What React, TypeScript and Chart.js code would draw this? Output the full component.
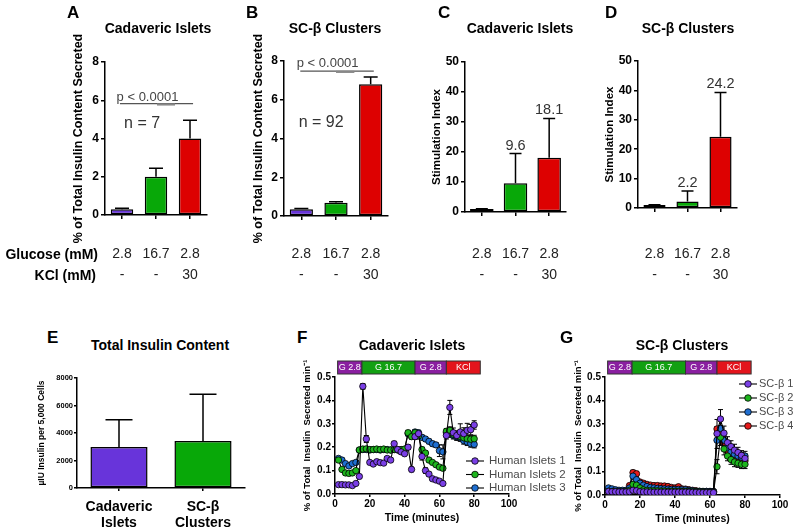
import React, { useEffect, useRef } from "react";
import { Chart, registerables } from "chart.js";

Chart.register(...registerables);

const FONT = "Arial, 'Liberation Sans', Helvetica, sans-serif";
const NARROW = "'Liberation Sans Narrow', 'Arial Narrow', Arial, sans-serif";

const PURPLE = "#6834da";
const GREEN = "#08a808";
const RED = "#dd0101";
const BLUE = "#1f6fd1";
const BAR_COLORS = [PURPLE, GREEN, RED];

// ---------------- data ----------------
const conditionLabels = [["2.8", "-"], ["16.7", "-"], ["2.8", "30"]];
const rowHeaders = ["Glucose (mM)", "KCl (mM)"];
const pValueText = "p < 0.0001";
const cadavericN = 7;
const scBetaN = 92;

const cadavericSecretion = [0.3, 2.0, 4.0];
const cadavericSecretionErr = [0.05, 0.45, 0.95];
const scBetaSecretion = [0.35, 0.68, 6.8];
const scBetaSecretionErr = [0.04, 0.06, 0.38];

const cadavericSI = [1.0, 9.6, 18.1];
const cadavericSIErr = [0.1, 9.9, 13.1];
const cadavericSILabels = ["", "9.6", "18.1"];
const scBetaSI = [1.0, 2.2, 24.2];
const scBetaSIErr = [0.1, 3.6, 15.1];
const scBetaSILabels = ["", "2.2", "24.2"];

const contentCategories = [["Cadaveric", "Islets"], ["SC-β", "Clusters"]];
const contentValues = [2980, 3420];
const contentErr = [1990, 3400];
const contentColors = [PURPLE, GREEN];

const timeMinutes = [2, 4, 6, 8, 10, 12, 14, 16, 18, 20, 22, 24, 26, 28, 30, 32, 34, 36, 38, 40,
  42, 44, 46, 48, 50, 52, 54, 56, 58, 60, 62, 64, 66, 68, 70, 72, 74, 76, 78, 80];

const phaseBounds = [1.5, 15.5, 46, 64, 83.5];
const phaseLabels = ["G 2.8", "G 16.7", "G 2.8", "KCl"];
const phaseColors = ["#8a1fa0", "#12a012", "#8a1fa0", "#e3141c"];

const isletNames = ["Human Islets 1", "Human Islets 2", "Human Islets 3"];
const islets1 = [0.040, 0.040, 0.039, 0.039, 0.036, 0.045,
  0.075, 0.460, 0.235, 0.135, 0.128, 0.138, 0.134, 0.132, 0.152, 0.145, 0.215, 0.190, 0.180, 0.172,
  0.200, 0.105, 0.245, 0.258, 0.160, 0.100, 0.085, 0.065, 0.060, 0.055, 0.045,
  0.250, 0.370, 0.262, 0.250, 0.265, 0.258, 0.272, 0.275, 0.295];
const islets2 = [0.145, 0.105, 0.090, 0.088, 0.090, 0.100,
  0.188, 0.192, 0.193, 0.190, 0.190, 0.192, 0.190, 0.192, 0.188, 0.188, 0.190, 0.190, 0.190, 0.192,
  0.262, 0.245, 0.262, 0.248, 0.190, 0.175, 0.145, 0.135, 0.125, 0.115, 0.110,
  0.268, 0.272, 0.255, 0.250, 0.245, 0.240, 0.236, 0.234, 0.236];
const islets3 = [0.152, 0.145, 0.130, 0.120, 0.130, 0.135,
  0.188, 0.190, 0.190, 0.188, 0.190, 0.190, 0.188, 0.190, 0.190, 0.188, 0.190, 0.188, 0.188, 0.190,
  0.258, 0.250, 0.265, 0.262, 0.242, 0.235, 0.225, 0.215, 0.210, 0.185, 0.180,
  0.262, 0.262, 0.250, 0.245, 0.240, 0.228, 0.222, 0.215, 0.212];
const islets1Err = [0.004, 0.004, 0.004, 0.004, 0.004, 0.005,
  0.008, 0.012, 0.015, 0.006, 0.006, 0.006, 0.006, 0.006, 0.008, 0.008, 0.010, 0.008, 0.008, 0.008,
  0.010, 0.010, 0.012, 0.012, 0.015, 0.012, 0.008, 0.006, 0.006, 0.006, 0.006,
  0.015, 0.030, 0.020, 0.020, 0.035, 0.025, 0.030, 0.022, 0.018];
const islets2Err = [0.008, 0.006, 0.006, 0.005, 0.005, 0.006,
  0.006, 0.006, 0.006, 0.006, 0.006, 0.006, 0.006, 0.006, 0.006, 0.006, 0.006, 0.006, 0.006, 0.006,
  0.010, 0.010, 0.010, 0.010, 0.010, 0.008, 0.008, 0.008, 0.008, 0.008, 0.008,
  0.012, 0.015, 0.015, 0.015, 0.015, 0.015, 0.015, 0.015, 0.015];
const islets3Err = [0.008, 0.008, 0.006, 0.006, 0.006, 0.006,
  0.006, 0.006, 0.006, 0.006, 0.006, 0.006, 0.006, 0.006, 0.006, 0.006, 0.006, 0.006, 0.006, 0.006,
  0.010, 0.010, 0.010, 0.010, 0.010, 0.010, 0.010, 0.010, 0.010, 0.025, 0.030,
  0.015, 0.020, 0.015, 0.015, 0.015, 0.015, 0.015, 0.015, 0.015];

const scNames = ["SC-β 1", "SC-β 2", "SC-β 3", "SC-β 4"];
const sc1 = [0.015, 0.014, 0.014, 0.013, 0.013, 0.013,
  0.014, 0.020, 0.018, 0.014, 0.013, 0.013, 0.012, 0.012, 0.012, 0.012, 0.012, 0.012, 0.012, 0.012,
  0.012, 0.012, 0.012, 0.012, 0.011, 0.011, 0.010, 0.010, 0.010, 0.010, 0.010,
  0.260, 0.322, 0.262, 0.222, 0.205, 0.190, 0.180, 0.168, 0.155];
const sc2 = [0.016, 0.015, 0.015, 0.014, 0.014, 0.015,
  0.020, 0.045, 0.042, 0.030, 0.022, 0.020, 0.018, 0.018, 0.018, 0.017, 0.017, 0.016, 0.016, 0.016,
  0.016, 0.015, 0.015, 0.015, 0.014, 0.014, 0.013, 0.013, 0.012, 0.012, 0.012,
  0.120, 0.245, 0.195, 0.165, 0.150, 0.140, 0.135, 0.130, 0.130];
const sc3 = [0.030, 0.026, 0.022, 0.020, 0.020, 0.020,
  0.030, 0.080, 0.065, 0.050, 0.042, 0.036, 0.032, 0.030, 0.028, 0.027, 0.026, 0.025, 0.024, 0.024,
  0.024, 0.022, 0.022, 0.020, 0.018, 0.016, 0.015, 0.015, 0.015, 0.015, 0.015,
  0.232, 0.282, 0.232, 0.200, 0.182, 0.172, 0.165, 0.160, 0.165];
const sc4 = [0.016, 0.015, 0.015, 0.015, 0.015, 0.016,
  0.040, 0.095, 0.090, 0.055, 0.050, 0.045, 0.042, 0.040, 0.040, 0.038, 0.038, 0.036, 0.032, 0.030,
  0.035, 0.026, 0.025, 0.022, 0.020, 0.018, 0.016, 0.015, 0.015, 0.015, 0.015,
  0.280, 0.265, 0.222, 0.185, 0.170, 0.160, 0.155, 0.150, 0.145];
const sc1Err = [0.004, 0.004, 0.004, 0.004, 0.004, 0.004,
  0.004, 0.006, 0.005, 0.004, 0.004, 0.004, 0.004, 0.004, 0.004, 0.004, 0.004, 0.004, 0.004, 0.004,
  0.003, 0.003, 0.003, 0.003, 0.003, 0.003, 0.003, 0.003, 0.003, 0.003, 0.003,
  0.030, 0.040, 0.030, 0.025, 0.025, 0.025, 0.022, 0.020, 0.020];
const sc2Err = [0.004, 0.004, 0.004, 0.004, 0.004, 0.004,
  0.005, 0.010, 0.008, 0.006, 0.004, 0.004, 0.004, 0.004, 0.004, 0.004, 0.004, 0.004, 0.004, 0.004,
  0.003, 0.003, 0.003, 0.003, 0.003, 0.003, 0.003, 0.003, 0.003, 0.003, 0.003,
  0.030, 0.035, 0.025, 0.020, 0.020, 0.020, 0.018, 0.018, 0.018];
const sc3Err = [0.005, 0.004, 0.004, 0.004, 0.004, 0.004,
  0.005, 0.012, 0.010, 0.006, 0.005, 0.004, 0.004, 0.004, 0.004, 0.004, 0.004, 0.004, 0.004, 0.004,
  0.003, 0.003, 0.003, 0.003, 0.003, 0.003, 0.003, 0.003, 0.003, 0.003, 0.003,
  0.035, 0.040, 0.025, 0.022, 0.020, 0.020, 0.020, 0.020, 0.020];
const sc4Err = [0.004, 0.004, 0.004, 0.004, 0.004, 0.004,
  0.006, 0.010, 0.010, 0.006, 0.005, 0.005, 0.004, 0.004, 0.004, 0.004, 0.004, 0.004, 0.004, 0.004,
  0.004, 0.003, 0.003, 0.003, 0.003, 0.003, 0.003, 0.003, 0.003, 0.003, 0.003,
  0.040, 0.030, 0.025, 0.020, 0.020, 0.020, 0.020, 0.020, 0.020];

// ---------------- plugins ----------------
function drawErrors(chart: any, opts: any) {
  if (!opts || !opts.cap) return;
  const ctx = chart.ctx;
  const ys = chart.scales.y;
  ctx.save();
  ctx.strokeStyle = opts.color || "#000";
  ctx.lineWidth = opts.lineWidth || 1.5;
  chart.data.datasets.forEach((ds: any, di: number) => {
    const errs = ds.errors;
    if (!errs) return;
    const meta = chart.getDatasetMeta(di);
    meta.data.forEach((el: any, i: number) => {
      const raw = ds.data[i];
      const v = typeof raw === "number" ? raw : raw.y;
      const e = errs[i];
      if (!e) return;
      const x = el.x;
      const top = ys.getPixelForValue(v + e);
      const bottom = opts.symmetric ? ys.getPixelForValue(Math.max(0, v - e)) : ys.getPixelForValue(v);
      const c = opts.cap / 2;
      ctx.beginPath();
      ctx.moveTo(x, bottom);
      ctx.lineTo(x, top);
      ctx.moveTo(x - c, top);
      ctx.lineTo(x + c, top);
      if (opts.symmetric) {
        ctx.moveTo(x - c, bottom);
        ctx.lineTo(x + c, bottom);
      }
      ctx.stroke();
    });
  });
  ctx.restore();
}

const errorBarsPlugin = {
  id: "errorBars",
  beforeDatasetsDraw(chart: any, _a: any, opts: any) {
    if (opts && opts.under) drawErrors(chart, opts);
  },
  afterDatasetsDraw(chart: any, _a: any, opts: any) {
    if (opts && !opts.under) drawErrors(chart, opts);
  },
};

const valueLabelPlugin = {
  id: "valueLabels",
  afterDatasetsDraw(chart: any, _a: any, opts: any) {
    if (!opts || !opts.labels) return;
    const ctx = chart.ctx;
    const ds = chart.data.datasets[0];
    const meta = chart.getDatasetMeta(0);
    const ys = chart.scales.y;
    ctx.save();
    ctx.fillStyle = opts.color;
    ctx.font = `${opts.size}px ${FONT}`;
    ctx.textAlign = "center";
    ctx.textBaseline = "middle";
    meta.data.forEach((el: any, i: number) => {
      const txt = opts.labels[i];
      if (!txt) return;
      const top = ys.getPixelForValue(ds.data[i] + (ds.errors ? ds.errors[i] : 0));
      ctx.fillText(txt, el.x, top - opts.offset);
    });
    ctx.restore();
  },
};

const notesPlugin = {
  id: "notes",
  afterDraw(chart: any, _a: any, opts: any) {
    const items = (opts && opts.items) || [];
    const ctx = chart.ctx;
    const xs = chart.scales.x;
    const ys = chart.scales.y;
    items.forEach((it: any) => {
      ctx.save();
      if (it.kind === "line") {
        ctx.strokeStyle = it.color;
        ctx.lineWidth = it.width;
        const y = ys.getPixelForValue(it.y);
        ctx.beginPath();
        ctx.moveTo(xs.getPixelForValue(it.x1), y);
        ctx.lineTo(xs.getPixelForValue(it.x2), y);
        ctx.stroke();
      } else {
        ctx.fillStyle = it.color;
        ctx.font = `${it.size}px ${FONT}`;
        ctx.textAlign = "center";
        ctx.textBaseline = "middle";
        ctx.fillText(it.text, xs.getPixelForValue(it.x), ys.getPixelForValue(it.y));
      }
      ctx.restore();
    });
  },
};

const phaseStripPlugin = {
  id: "phaseStrip",
  afterDraw(chart: any, _a: any, opts: any) {
    if (!opts || !opts.bounds) return;
    const ctx = chart.ctx;
    const xs = chart.scales.x;
    const top = chart.chartArea.top - opts.gap - opts.height;
    ctx.save();
    for (let i = 0; i < opts.labels.length; i++) {
      const x0 = xs.getPixelForValue(opts.bounds[i]);
      const x1 = xs.getPixelForValue(opts.bounds[i + 1]);
      ctx.fillStyle = opts.colors[i];
      ctx.fillRect(x0, top, x1 - x0, opts.height);
      ctx.strokeStyle = "#333";
      ctx.lineWidth = 1;
      ctx.strokeRect(x0, top, x1 - x0, opts.height);
      ctx.fillStyle = "#fff";
      ctx.font = `9px ${NARROW}`;
      ctx.textAlign = "center";
      ctx.textBaseline = "middle";
      ctx.fillText(opts.labels[i], (x0 + x1) / 2, top + opts.height / 2 + 0.5);
    }
    ctx.restore();
  },
};

const seriesKeyPlugin = {
  id: "seriesKey",
  afterDraw(chart: any, _a: any, opts: any) {
    if (!opts || opts.x === undefined) return;
    const ctx = chart.ctx;
    ctx.save();
    chart.data.datasets.forEach((ds: any, i: number) => {
      const y = opts.y + i * opts.dy;
      ctx.strokeStyle = "#000";
      ctx.lineWidth = 1.1;
      ctx.beginPath();
      ctx.moveTo(opts.x - 9, y);
      ctx.lineTo(opts.x + 9, y);
      ctx.stroke();
      ctx.beginPath();
      ctx.arc(opts.x, y, 3.3, 0, Math.PI * 2);
      ctx.fillStyle = ds.pointBackgroundColor;
      ctx.fill();
      ctx.lineWidth = 0.8;
      ctx.stroke();
      ctx.fillStyle = "#4a4a4a";
      ctx.font = `${opts.size}px ${FONT}`;
      ctx.textAlign = "left";
      ctx.textBaseline = "middle";
      ctx.fillText(ds.label, opts.x + opts.textDx, y);
    });
    ctx.restore();
  },
};

// ---------------- layout helpers ----------------
type Box = { L: number; T: number; W: number; H: number };
type Area = { l: number; t: number; r: number; b: number };

function frame(box: Box, area: Area) {
  return {
    layout: {
      autoPadding: false,
      padding: { left: 0, top: area.t - box.T, right: box.L + box.W - area.r, bottom: 0 },
    },
    yw: area.l - box.L,
    xh: box.T + box.H - area.b,
  };
}

function axisLines(tickLength: number) {
  return {
    border: { display: true, color: "#000", width: 1.5 },
    grid: {
      display: true, drawOnChartArea: false, drawTicks: true, tickLength,
      color: "#000", lineWidth: 1.5, offset: false,
    },
  };
}

function barChart(p: any) {
  const f = frame(p.box, p.area);
  return {
    type: "bar",
    data: {
      labels: p.labels,
      datasets: [{
        data: p.values,
        errors: p.errors,
        backgroundColor: p.colors,
        borderColor: "#000",
        borderWidth: 1.5,
        borderSkipped: false,
        barPercentage: p.barPct,
        categoryPercentage: 1,
      }],
    },
    options: {
      responsive: false,
      animation: false,
      events: [],
      layout: f.layout,
      scales: {
        x: {
          type: "category",
          offset: true,
          ...axisLines(p.tickLen),
          ticks: {
            color: p.xColor, font: p.xFont, padding: p.xPad,
            maxRotation: 0, minRotation: 0, autoSkip: false,
          },
          afterFit: (s: any) => { s.height = f.xh; },
        },
        y: {
          min: 0, max: p.yMax,
          ...axisLines(p.tickLen),
          ticks: {
            stepSize: p.yStep, color: "#000", padding: p.yPad,
            font: { family: FONT, size: p.tickSize, weight: "bold" },
            callback: (v: any) => String(v),
          },
          title: {
            display: true, text: p.yTitle, color: "#000", padding: 0,
            font: { family: FONT, size: p.yTitleSize, weight: "bold" },
          },
          afterFit: (s: any) => { s.width = f.yw; },
        },
      },
      plugins: {
        legend: { display: false },
        tooltip: { enabled: false },
        errorBars: { cap: p.cap, lineWidth: 1.5 },
        valueLabels: p.valueLabels ? { labels: p.valueLabels, offset: 8, size: 14.5, color: "#333" } : {},
        notes: { items: p.notes || [] },
      },
    },
    plugins: [errorBarsPlugin, valueLabelPlugin, notesPlugin],
  };
}

function seriesChart(p: any) {
  const f = frame(p.box, p.area);
  return {
    type: "line",
    data: {
      datasets: p.series.map((s: any) => ({
        label: s.label,
        data: timeMinutes.map((t, i) => ({ x: t, y: s.values[i] })),
        errors: s.errors,
        borderColor: "#000",
        borderWidth: 1.1,
        pointRadius: 3.2,
        pointBackgroundColor: s.color,
        pointBorderColor: "#000",
        pointBorderWidth: 0.8,
        fill: false,
        tension: 0,
      })),
    },
    options: {
      responsive: false,
      animation: false,
      events: [],
      layout: f.layout,
      scales: {
        x: {
          type: "linear", min: 0, max: 100,
          ...axisLines(3),
          ticks: {
            stepSize: 20, color: "#000", padding: 1,
            font: { family: FONT, size: 10, weight: "bold" },
            callback: (v: any) => String(v),
          },
          title: {
            display: true, text: "Time (minutes)", color: "#000", padding: 0,
            font: { family: FONT, size: 10.5, weight: "bold" },
          },
          afterFit: (s: any) => { s.height = f.xh; },
        },
        y: {
          min: 0, max: 0.5,
          ...axisLines(3),
          ticks: {
            stepSize: 0.1, color: "#000", padding: 1,
            font: { family: FONT, size: 10, weight: "bold" },
            callback: (v: any) => Number(v).toFixed(1),
          },
          title: {
            display: true, text: "% of Total  Insulin  Secreted min⁻¹", color: "#000", padding: 0,
            font: { family: FONT, size: 9.5, weight: "bold" },
          },
          afterFit: (s: any) => { s.width = f.yw; },
        },
      },
      plugins: {
        legend: { display: false },
        tooltip: { enabled: false },
        errorBars: { cap: 5, lineWidth: 1, under: true, symmetric: true },
        phaseStrip: { bounds: phaseBounds, labels: phaseLabels, colors: phaseColors, gap: 3, height: 13 },
        seriesKey: {
          x: p.key.x - p.box.L, y: p.key.y - p.box.T, dy: p.key.dy,
          textDx: p.key.textDx, size: p.key.size,
        },
      },
    },
    plugins: [errorBarsPlugin, phaseStripPlugin, seriesKeyPlugin],
  };
}

const X_FONT = { family: FONT, size: 14, lineHeight: 1.5 };
const Y_TITLE_SECRETED = "% of Total Insulin Content Secreted";

const PANELS: any[] = [
  {
    box: { L: 71, T: 20, W: 166, H: 275 },
    make: (box: Box) => barChart({
      box, area: { l: 105, t: 62, r: 207, b: 215 },
      labels: conditionLabels, values: cadavericSecretion, errors: cadavericSecretionErr, colors: BAR_COLORS,
      yMax: 8, yStep: 2, yTitle: Y_TITLE_SECRETED, yTitleSize: 12.5, tickSize: 12, tickLen: 4, yPad: 2,
      xFont: X_FONT, xPad: 24.5, xColor: "#222", barPct: 0.66, cap: 14,
      notes: [
        { kind: "line", x1: -0.06, x2: 2.09, y: 5.82, width: 1.2, color: "#555" },
        { kind: "line", x1: 1.03, x2: 1.56, y: 5.78, width: 2.2, color: "#888" },
        { kind: "text", x: 0.75, y: 6.17, text: pValueText, size: 13, color: "#444" },
        { kind: "text", x: 0.59, y: 4.76, text: `n = ${cadavericN}`, size: 16, color: "#333" },
      ],
    }),
  },
  {
    box: { L: 251, T: 20, W: 167, H: 276 },
    make: (box: Box) => barChart({
      box, area: { l: 284, t: 61, r: 388, b: 216 },
      labels: conditionLabels, values: scBetaSecretion, errors: scBetaSecretionErr, colors: BAR_COLORS,
      yMax: 8, yStep: 2, yTitle: Y_TITLE_SECRETED, yTitleSize: 12.5, tickSize: 12, tickLen: 4, yPad: 2,
      xFont: X_FONT, xPad: 23.5, xColor: "#222", barPct: 0.67, cap: 14,
      notes: [
        { kind: "line", x1: -0.03, x2: 2.09, y: 7.48, width: 1.2, color: "#555" },
        { kind: "line", x1: 1.0, x2: 1.53, y: 7.44, width: 2.2, color: "#888" },
        { kind: "text", x: 0.76, y: 7.9, text: pValueText, size: 13, color: "#444" },
        { kind: "text", x: 0.57, y: 4.8, text: `n = ${scBetaN}`, size: 16, color: "#333" },
      ],
    }),
  },
  {
    box: { L: 430, T: 20, W: 166, H: 272 },
    make: (box: Box) => barChart({
      box, area: { l: 465, t: 62, r: 566, b: 212 },
      labels: conditionLabels, values: cadavericSI, errors: cadavericSIErr, colors: BAR_COLORS,
      yMax: 50, yStep: 10, yTitle: "Stimulation Index", yTitleSize: 11.5, tickSize: 12, tickLen: 4, yPad: 2,
      xFont: X_FONT, xPad: 27.5, xColor: "#222", barPct: 0.7, cap: 12,
      valueLabels: cadavericSILabels,
    }),
  },
  {
    box: { L: 603, T: 20, W: 164, H: 268 },
    make: (box: Box) => barChart({
      box, area: { l: 638, t: 61, r: 737, b: 208 },
      labels: conditionLabels, values: scBetaSI, errors: scBetaSIErr, colors: BAR_COLORS,
      yMax: 50, yStep: 10, yTitle: "Stimulation Index", yTitleSize: 11.5, tickSize: 12, tickLen: 4, yPad: 2,
      xFont: X_FONT, xPad: 31.5, xColor: "#222", barPct: 0.67, cap: 12,
      valueLabels: scBetaSILabels,
    }),
  },
  {
    box: { L: 37, T: 365, W: 228, H: 166 },
    make: (box: Box) => barChart({
      box, area: { l: 77, t: 378, r: 245, b: 488 },
      labels: contentCategories, values: contentValues, errors: contentErr, colors: contentColors,
      yMax: 8000, yStep: 2000, yTitle: "µIU Insulin per 5,000 Cells", yTitleSize: 8.5, tickSize: 7.5, tickLen: 3, yPad: 1,
      xFont: { family: FONT, size: 14, weight: "bold", lineHeight: 16 / 14 }, xPad: 8, xColor: "#000",
      barPct: 0.68, cap: 27,
    }),
  },
  {
    box: { L: 302, T: 350, W: 278, H: 174 },
    make: (box: Box) => seriesChart({
      box, area: { l: 335, t: 377, r: 509, b: 494 },
      series: [
        { label: isletNames[0], values: islets1, errors: islets1Err, color: "#7a3fe6" },
        { label: isletNames[1], values: islets2, errors: islets2Err, color: "#1db51d" },
        { label: isletNames[2], values: islets3, errors: islets3Err, color: BLUE },
      ],
      key: { x: 475, y: 461, dy: 13.5, textDx: 14, size: 11.5 },
    }),
  },
  {
    box: { L: 573, T: 350, W: 220, H: 175 },
    make: (box: Box) => seriesChart({
      box, area: { l: 605, t: 377, r: 780, b: 495 },
      series: [
        { label: scNames[0], values: sc1, errors: sc1Err, color: "#7a3fe6" },
        { label: scNames[1], values: sc2, errors: sc2Err, color: "#1db51d" },
        { label: scNames[2], values: sc3, errors: sc3Err, color: BLUE },
        { label: scNames[3], values: sc4, errors: sc4Err, color: "#e61b1b" },
      ],
      key: { x: 748, y: 384, dy: 14, textDx: 11, size: 11 },
    }),
  },
];

const TEXTS = [
  { t: "A", x: 67, y: 12, size: 17, bold: true, align: "left" },
  { t: "B", x: 246, y: 12, size: 17, bold: true, align: "left" },
  { t: "C", x: 438, y: 12, size: 17, bold: true, align: "left" },
  { t: "D", x: 605, y: 12, size: 17, bold: true, align: "left" },
  { t: "E", x: 47, y: 337, size: 17, bold: true, align: "left" },
  { t: "F", x: 297, y: 337, size: 17, bold: true, align: "left" },
  { t: "G", x: 560, y: 337, size: 17, bold: true, align: "left" },
  { t: "Cadaveric Islets", x: 158, y: 28, size: 14, bold: true, align: "center" },
  { t: "SC-β Clusters", x: 335, y: 28, size: 14, bold: true, align: "center" },
  { t: "Cadaveric Islets", x: 520, y: 28, size: 14, bold: true, align: "center" },
  { t: "SC-β Clusters", x: 688, y: 28, size: 14, bold: true, align: "center" },
  { t: "Total Insulin Content", x: 160, y: 345, size: 14, bold: true, align: "center" },
  { t: "Cadaveric Islets", x: 412, y: 345, size: 14, bold: true, align: "center" },
  { t: "SC-β Clusters", x: 682, y: 345, size: 14, bold: true, align: "center" },
  { t: rowHeaders[0], x: 98, y: 254, size: 14, bold: true, align: "right" },
  { t: rowHeaders[1], x: 96, y: 275, size: 14, bold: true, align: "right" },
];

export default function App() {
  const refs = useRef<(HTMLCanvasElement | null)[]>([]);

  useEffect(() => {
    const charts = PANELS.map((p, i) => new Chart(refs.current[i] as HTMLCanvasElement, p.make(p.box) as any));
    return () => charts.forEach((c) => c.destroy());
  }, []);

  return (
    <div style={{
      position: "absolute", left: 0, top: 0, width: 795, height: 531,
      background: "#fff", overflow: "hidden", fontFamily: FONT, color: "#000",
    }}>
      {PANELS.map((p, i) => (
        <canvas
          key={i}
          ref={(el) => { refs.current[i] = el; }}
          width={p.box.W}
          height={p.box.H}
          style={{ position: "absolute", left: p.box.L, top: p.box.T, width: p.box.W, height: p.box.H }}
        />
      ))}
      {TEXTS.map((tx, i) => {
        const tr = tx.align === "center" ? "translate(-50%, -50%)" : tx.align === "right" ? "translate(-100%, -50%)" : "translate(0, -50%)";
        return (
          <div key={"t" + i} style={{
            position: "absolute", left: tx.x, top: tx.y, transform: tr,
            fontSize: tx.size, fontWeight: tx.bold ? "bold" : "normal",
            lineHeight: 1, whiteSpace: "nowrap",
          }}>{tx.t}</div>
        );
      })}
    </div>
  );
}
